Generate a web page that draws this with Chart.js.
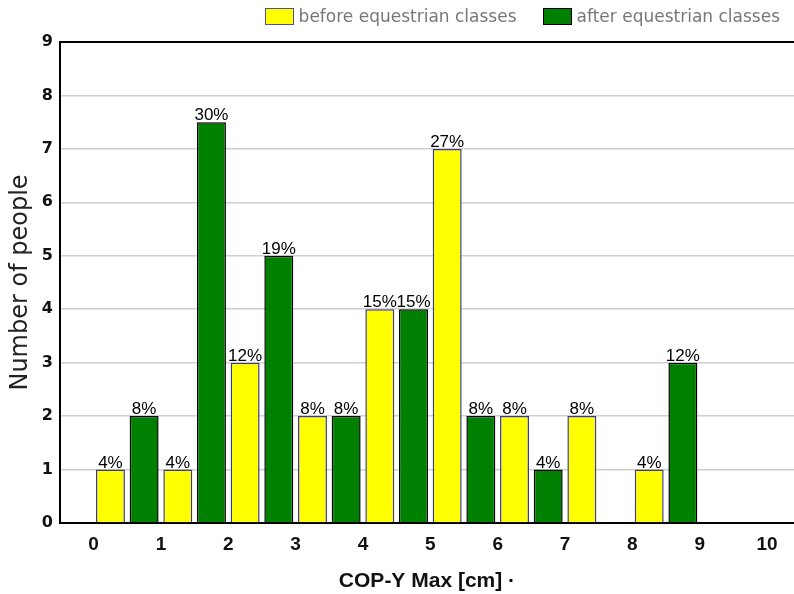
<!DOCTYPE html>
<html>
<head>
<meta charset="utf-8">
<script src="https://cdn.jsdelivr.net/npm/chart.js@4/dist/chart.umd.min.js"></script>
<style>
  html, body { margin: 0; padding: 0; background: #fff; }
  #wrap { position: relative; width: 794px; height: 594px; }
  #legend { position: absolute; top: 8px; right: 14px; display: flex;
            font-family: "DejaVu Sans", sans-serif; font-size: 17px; color: #777; }
  #legend .item { display: flex; align-items: center; margin-left: 26px; line-height: 17px; }
  #legend .box { width: 27px; height: 15px; border: 1.5px solid #000; margin-right: 5px; }
</style>
</head>
<body>
<div id="wrap">
  <canvas id="BarChart" width="794" height="594"></canvas>
  <div id="legend"></div>
</div>
<script>
// bins of 0.5 cm: "before" sits in the lower half of each cm, "after" in the upper half
const beforeX = [0.25, 1.25, 2.25, 3.25, 4.25, 5.25, 6.25, 7.25, 8.25];
const beforeCounts = [1, 1, 3, 2, 4, 7, 2, 2, 1];
const beforePct = ['4%', '4%', '12%', '8%', '15%', '27%', '8%', '8%', '4%'];

const afterX = [0.75, 1.75, 2.75, 3.75, 4.75, 5.75, 6.75, 8.75];
const afterCounts = [2, 7.5, 5, 2, 4, 2, 1, 3];
const afterPct = ['8%', '30%', '19%', '8%', '15%', '8%', '4%', '12%'];

const xTicks = [0, 1, 2, 3, 4, 5, 6, 7, 8, 9, 10];
const yTicks = [0, 1, 2, 3, 4, 5, 6, 7, 8, 9];

const seriesNames = ['before equestrian classes', 'after equestrian classes'];
const pctLabels = [beforePct, afterPct];

function toPoints(xs, ys) {
    return xs.map((x, i) => ({ x: x, y: ys[i] }));
}

// percent labels drawn above each bar
const pctPlugin = {
    id: 'pctLabels',
    afterDatasetsDraw(chart) {
        const ctx = chart.ctx;
        ctx.save();
        ctx.font = '17px "Liberation Sans", Arial, sans-serif';
        ctx.fillStyle = '#000';
        ctx.textAlign = 'center';
        ctx.textBaseline = 'bottom';
        chart.data.datasets.forEach((ds, di) => {
            const meta = chart.getDatasetMeta(di);
            meta.data.forEach((bar, i) => {
                ctx.fillText(pctLabels[di][i], bar.x, bar.y + 2);
            });
        });
        ctx.restore();
    }
};

const canvasElement = document.getElementById('BarChart');

const chart = new Chart(canvasElement, {
    type: 'bar',
    data: {
        datasets: [
            {
                label: seriesNames[0],
                data: toPoints(beforeX, beforeCounts),
                backgroundColor: '#ffff00',
                borderColor: '#3a3a8c',
                borderWidth: 1.5
            },
            {
                label: seriesNames[1],
                data: toPoints(afterX, afterCounts),
                backgroundColor: '#008000',
                borderColor: '#000000',
                borderWidth: 1.5
            }
        ]
    },
    options: {
        responsive: false,
        animation: false,
        grouped: false,
        barPercentage: 0.86,
        categoryPercentage: 1,
        layout: { padding: { left: 3, right: 0, top: 42, bottom: 0 } },
        scales: {
            x: {
                type: 'linear',
                min: -0.5,
                max: 10.4,
                offset: false,
                afterBuildTicks: axis => { axis.ticks = xTicks.map(v => ({ value: v })); },
                grid: { drawOnChartArea: false, drawTicks: false, offset: false },
                border: { color: '#000', width: 2 },
                ticks: {
                    padding: 10,
                    color: '#111',
                    font: { family: '"Liberation Sans", Arial, sans-serif', size: 19, weight: 'bold' }
                },
                title: {
                    display: true,
                    text: 'COP-Y Max [cm] ·',
                    color: '#111',
                    padding: { top: 3, bottom: 0 },
                    font: { family: '"Liberation Sans", Arial, sans-serif', size: 21, weight: 'bold' }
                }
            },
            x2: {
                type: 'linear',
                position: 'top',
                min: -0.5,
                max: 10.4,
                grid: { drawOnChartArea: false, drawTicks: false },
                border: { color: '#000', width: 2 },
                ticks: { display: false }
            },
            y: {
                min: 0,
                max: 9,
                afterBuildTicks: axis => { axis.ticks = yTicks.map(v => ({ value: v })); },
                grid: { color: '#cfcfcf', lineWidth: 1.5, drawTicks: false },
                border: { color: '#000', width: 2 },
                ticks: {
                    padding: 7,
                    color: '#111',
                    font: { family: '"DejaVu Sans", sans-serif', size: 16, weight: 'bold' }
                },
                title: {
                    display: true,
                    text: 'Number of people',
                    color: '#222',
                    padding: { top: 3, bottom: 0 },
                    font: { family: '"DejaVu Sans", sans-serif', size: 24 }
                }
            }
        },
        plugins: {
            legend: { display: false },
            tooltip: { enabled: false }
        }
    },
    plugins: [pctPlugin]
});

// legend built from the datasets
const legendEl = document.getElementById('legend');
chart.data.datasets.forEach(ds => {
    const item = document.createElement('div');
    item.className = 'item';
    const box = document.createElement('span');
    box.className = 'box';
    box.style.background = ds.backgroundColor;
    box.style.borderColor = ds.borderColor === '#000000' ? '#000' : '#5050a0';
    const txt = document.createElement('span');
    txt.textContent = ds.label;
    item.appendChild(box);
    item.appendChild(txt);
    legendEl.appendChild(item);
});
</script>
</body>
</html>
